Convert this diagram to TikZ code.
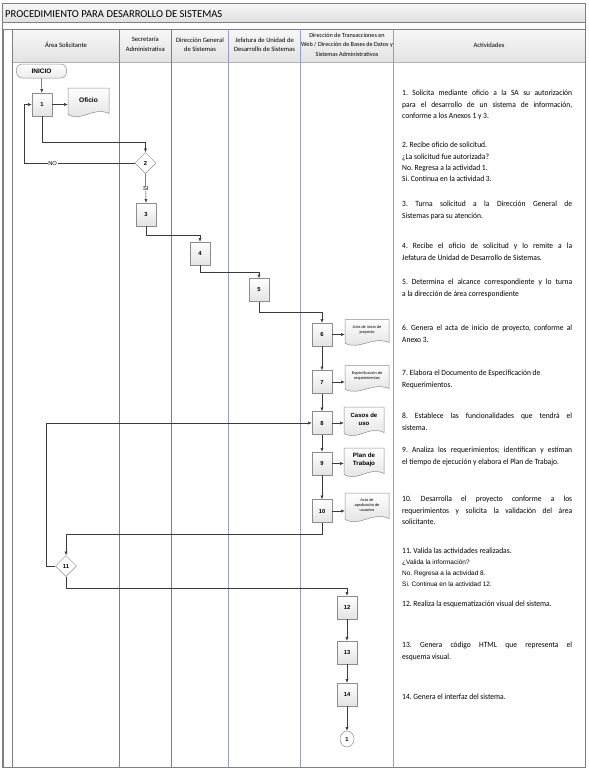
\documentclass[tikz,border=0pt]{standalone}
\usepackage{fontspec}
\setmainfont{Carlito}
\newfontfamily\arialf{Liberation Sans}
\newfontfamily\actf[FakeStretch=0.94]{Carlito}
\usetikzlibrary{shapes.geometric,arrows.meta}
\definecolor{lanegray}{HTML}{7F7F7F}
\definecolor{laneblue}{HTML}{9A9AD2}
\definecolor{connc}{HTML}{3A3A3A}
\definecolor{boxline}{HTML}{8C8C8C}
\hbadness=10000 \hfuzz=3pt
\hyphenpenalty=10000 \exhyphenpenalty=10000
\frenchspacing
% document shape: name, cx, cy, w, h, text, font
\newcommand\docat[7]{%
  \path[draw=boxline, line width=0.5pt, top color=white, bottom color=gray!25]
    ({#2-#4/2},{#3-#5/2}) -- ({#2+#4/2},{#3-#5/2}) -- ({#2+#4/2},{#3+#5/2-0.15*#5})
    .. controls ({#2-#4/2+0.6*#4},{#3+#5/2-0.4*#5}) and ({#2-#4/2+0.35*#4},{#3+#5/2+0.15*#5})
    .. ({#2-#4/2},{#3+#5/2-0.12*#5}) -- cycle;
  \node[docnode, minimum width=#4, minimum height={0.8*#5}, font=#7] (#1) at (#2,{#3-0.1*#5}) {#6};
}
\begin{document}
\begin{tikzpicture}[x=1pt,y=-1pt,
  stepbox/.style={draw=boxline, line width=0.5pt, top color=white, bottom color=gray!22,
    minimum width=20pt, minimum height=23pt, inner sep=0pt,
    font=\arialf\bfseries\fontsize{5.8}{6}\selectfont},
  decision/.style={diamond, aspect=1, draw=boxline, line width=0.5pt, fill=white,
    minimum width=21pt, minimum height=21pt, inner sep=0pt,
    font=\arialf\bfseries\fontsize{5.8}{6}\selectfont},
  terminal/.style={draw=boxline, line width=0.5pt, rounded corners=6pt, top color=white,
    bottom color=gray!15, minimum width=50pt, minimum height=14pt, inner sep=0pt,
    font=\arialf\bfseries\fontsize{6.5}{7}\selectfont},
  endconn/.style={ellipse, draw=boxline, line width=0.5pt, fill=white, minimum width=14pt,
    minimum height=16pt, inner sep=0pt, font=\arialf\bfseries\fontsize{5.8}{6}\selectfont},
  docnode/.style={inner sep=0pt, align=center},
  hdr/.style={align=center, inner sep=0pt, font=\fontsize{6.6}{9.5}\selectfont},
  act/.style={anchor=north west, inner sep=0pt, text width=170pt, align=justify,
    font=\actf\fontsize{8}{11.3}\selectfont},
  lbl/.style={fill=white, inner sep=0.6pt, font=\arialf\fontsize{5.8}{6}\selectfont},
  arr/.style={draw=connc, line width=0.5pt, -{Latex[length=3.6pt,width=3pt]}},
  lanel/.style={draw=lanegray, line width=0.6pt},
  laneb/.style={draw=laneblue, line width=0.6pt},
]
\useasboundingbox (0,0) rectangle (589,772);
% frame and bands
\path[top color=gray!6, bottom color=gray!24] (2,3) rectangle (585,22);
\path[top color=gray!6, bottom color=gray!22] (12,29) rectangle (585,62);
\draw[lanegray, line width=0.6pt] (2,3) rectangle (585,767);
\draw[lanegray, line width=0.6pt] (2,22) -- (585,22);
\draw[lanegray, line width=0.6pt] (2,29) -- (585,29);
\draw[lanegray!60, line width=0.4pt] (12,62) -- (585,62);
\draw[lanegray, line width=0.9pt] (3,29) -- (3,767);
\draw[lanegray, line width=0.7pt] (12,29) -- (12,767);
\draw[lanel] (119.3,29) -- (119.3,767);
\draw[lanel] (171.3,29) -- (171.3,767);
\draw[laneb] (228.5,29) -- (228.5,767);
\draw[laneb] (300.5,29) -- (300.5,767);
\draw[laneb] (393.5,29) -- (393.5,767);
\node[anchor=west, inner sep=0pt, font=\fontsize{10.6}{12}\selectfont] (title) at (5,14) {PROCEDIMIENTO PARA DESARROLLO DE SISTEMAS};
% headers
\node[hdr] (h1) at (66,45) {Área Solicitante};
\node[hdr] (h2) at (145.3,44.5) {Secretaría\\Administrativa};
\node[hdr] (h3) at (200,44.5) {Dirección General\\de Sistemas};
\node[hdr] (h4) at (264.5,44.5) {Jefatura de Unidad de\\Desarrollo de Sistemas};
\node[hdr, font=\fontsize{6.2}{9.5}\selectfont] (h5) at (347,44.5) {Dirección de Transacciones en\\Web / Dirección de Bases de Datos y\\Sistemas Administrativos};
\node[hdr] (h6) at (489,45) {Actividades};
% flow nodes
\node[terminal] (inicio) at (41.5,71) {INICIO};
\node[stepbox] (s1) at (42,104.5) {1};
\docat{oficio}{88.5}{103}{41}{30}{Oficio}{\arialf\bfseries\fontsize{6.6}{7}\selectfont}
\node[decision] (d2) at (145.5,163) {2};
\node[stepbox] (s3) at (146,214.5) {3};
\node[stepbox] (s4) at (200,253.5) {4};
\node[stepbox] (s5) at (259,290) {5};
\node[stepbox] (s6) at (322,334.5) {6};
\docat{doc6}{367}{333}{44}{27}{Acta de inicio de\\proyecto}{\arialf\fontsize{3.9}{4.8}\selectfont}
\node[stepbox] (s7) at (322,382) {7};
\docat{doc7}{367}{379}{44}{27}{Especificación de\\requerimientos}{\arialf\fontsize{3.9}{4.8}\selectfont}
\node[stepbox] (s8) at (322,423) {8};
\docat{doc8}{364}{422}{40}{30}{Casos de\\uso}{\arialf\bfseries\fontsize{6}{8}\selectfont}
\node[stepbox] (s9) at (322,463.5) {9};
\docat{doc9}{364}{463}{40}{30}{Plan de\\Trabajo}{\arialf\bfseries\fontsize{6.2}{8}\selectfont}
\node[stepbox] (s10) at (322,511) {10};
\docat{doc10}{367}{508}{44}{30}{Acta de\\aprobación de\\usuarios}{\arialf\fontsize{3.9}{5}\selectfont}
\node[decision] (d11) at (66,566) {11};
\node[stepbox] (s12) at (347,607.5) {12};
\node[stepbox] (s13) at (347,652.5) {13};
\node[stepbox] (s14) at (347,694.5) {14};
\node[endconn] (fin) at (347,739) {1};
% connectors
\draw[arr] (inicio) -- (s1);
\draw[arr] (s1.east) -- (s1.east -| oficio.west);
\draw[arr] (s1.south) -- ++(0,26) -| (d2.north);
\draw[arr] (d2.west) -- node[lbl, pos=0.74] {NO} ++(-111,0) |- (s1.west);
\draw[arr] (d2.south) -- node[lbl] {SI} (s3.north);
\draw[arr] (s3.south) -- ++(0,9) -| (s4.north);
\draw[arr] (s4.south) -- ++(0,7) -| (s5.north);
\draw[arr] (s5.south) -- ++(0,10) -| (s6.north);
\draw[arr] (s6.east) -- (s6.east -| doc6.west);
\draw[arr] (s6) -- (s7);
\draw[arr] (s7.east) -- (s7.east -| doc7.west);
\draw[arr] (s7) -- (s8);
\draw[arr] (s8.east) -- (s8.east -| doc8.west);
\draw[arr] (s8) -- (s9);
\draw[arr] (s9.east) -- (s9.east -| doc9.west);
\draw[arr] (s9) -- (s10);
\draw[arr] (s10.east) -- (s10.east -| doc10.west);
\draw[arr] (s10.south) -- ++(0,11) -| (d11.north);
\draw[arr] (d11.west) -- ++(-9,0) |- (s8.west);
\draw[arr] (d11.south) -- ++(0,11) -| (s12.north);
\draw[arr] (s12) -- (s13);
\draw[arr] (s13) -- (s14);
\draw[arr] (s14) -- (fin);
% activities
\node[act] (a1) at (402,90) {1. Solicita mediante oficio a la SA su autorización\linebreak para el desarrollo de un sistema de información,\linebreak conforme a los Anexos 1 y 3.};
\node[act] (a2) at (402,142) {2. Recibe oficio de solicitud.\newline ¿La solicitud fue autorizada?\newline No. Regresa a la actividad 1.\newline Si. Continua en la actividad 3.};
\node[act] (a3) at (402,201) {3. Turna solicitud a la Dirección General de\linebreak Sistemas para su atención.};
\node[act] (a4) at (402,243) {4. Recibe el oficio de solicitud y lo remite a la\linebreak Jefatura de Unidad de Desarrollo de Sistemas.};
\node[act] (a5) at (402,279) {5. Determina el alcance correspondiente y lo turna\linebreak a la dirección de área correspondiente};
\node[act] (a6) at (402,325) {6. Genera el acta de inicio de proyecto, conforme al\linebreak Anexo 3.};
\node[act] (a7) at (402,370) {7. Elabora el Documento de Especificación de\newline Requerimientos.};
\node[act] (a8) at (402,413) {8. Establece las funcionalidades que tendrá el\linebreak sistema.};
\node[act] (a9) at (402,447) {9. Analiza los requerimientos; identifican y estiman\linebreak el tiempo de ejecución y elabora el Plan de Trabajo.};
\node[act] (a10) at (402,496) {10. Desarrolla el proyecto conforme a los\linebreak requerimientos y solicita la validación del área\linebreak solicitante.};
\node[act, font=\actf\fontsize{8}{11}\selectfont] (a11) at (402,548) {11. Valida las actividades realizadas.\newline {\arialf\fontsize{6.5}{11}\selectfont ¿Valida la información?\newline No. Regresa a la actividad 8.\newline Si. Continua en la actividad 12.}};
\node[act] (a12) at (402,601) {12. Realiza la esquematización visual del sistema.};
\node[act] (a13) at (402,642) {13. Genera código HTML que representa el\linebreak esquema visual.};
\node[act] (a14) at (402,694) {14. Genera el interfaz del sistema.};
\end{tikzpicture}
\end{document}
